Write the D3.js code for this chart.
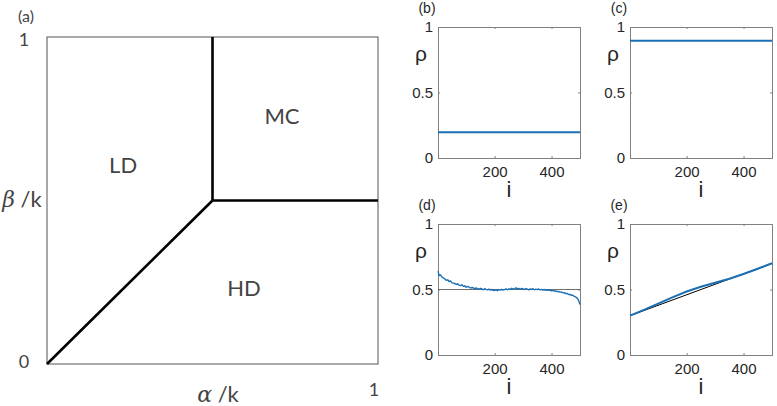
<!DOCTYPE html>
<html>
<head>
<meta charset="utf-8">
<script src="https://cdn.jsdelivr.net/npm/d3@7"></script>
<style>
  body { margin: 0; background: #fff; }
  svg { display: block; }
  .phase text { font-family: Lato, "Open Sans", sans-serif; fill: #444; }
  .panel text { font-family: "Liberation Sans", Arial, sans-serif; fill: #262626; }
</style>
</head>
<body>
<svg id="chart" width="777" height="406"></svg>
<script>
// phase diagram (a): boundaries in (alpha/k, beta/k)
var lineLD_HD = [[0, 0], [0.5, 0.5]];
var lineLD_MC = [[0.5, 0.5], [0.5, 1]];
var lineHD_MC = [[0.5, 0.5], [1, 0.5]];
var phaseNames = ["LD", "MC", "HD"];
var phasePos = [[0.23, 0.61], [0.71, 0.76], [0.595, 0.235]];

// density profiles
var xTicks = [200, 400];
var yTicks = [0, 0.5, 1];
var yTickLabels = ["0", "0.5", "1"];

var iB = [1, 500], rhoB = [0.197, 0.197];
var iC = [1, 500], rhoC = [0.895, 0.895];

var iD = [1].concat(d3.range(5, 501, 5));
var rhoD = [0.640, 0.606, 0.611, 0.594, 0.588, 0.581, 0.570, 0.574, 0.561, 0.566,
  0.551, 0.549, 0.547, 0.538, 0.544, 0.533, 0.530, 0.536, 0.524, 0.528,
  0.517, 0.524, 0.519, 0.511, 0.515, 0.513, 0.504, 0.512, 0.507, 0.502,
  0.509, 0.505, 0.498, 0.506, 0.501, 0.497, 0.503, 0.495, 0.500, 0.492,
  0.494, 0.497, 0.491, 0.499, 0.495, 0.502, 0.496, 0.499, 0.504, 0.498,
  0.505, 0.501, 0.509, 0.503, 0.507, 0.512, 0.505, 0.509, 0.502, 0.508,
  0.504, 0.500, 0.507, 0.503, 0.497, 0.505, 0.501, 0.506, 0.498, 0.503,
  0.499, 0.504, 0.497, 0.501, 0.496, 0.500, 0.494, 0.497, 0.493, 0.496,
  0.490, 0.493, 0.487, 0.489, 0.483, 0.486, 0.480, 0.481, 0.474, 0.476,
  0.468, 0.470, 0.462, 0.463, 0.455, 0.456, 0.447, 0.443, 0.434, 0.417,
  0.385];
var iDref = [1, 500], rhoDref = [0.5, 0.5];

var iE = [1, 50, 100, 150, 200, 250, 300, 350, 400, 450, 500];
var rhoE = [0.30, 0.345, 0.392, 0.44, 0.485, 0.521, 0.551, 0.582, 0.618, 0.658, 0.70];
var iEref = [1, 500], rhoEref = [0.3, 0.7];

var blue = "#1a6fb5";
var svg = d3.select("#chart");

// ---- panel (a)
var xA = d3.scaleLinear().domain([0, 1]).range([47, 378]);
var yA = d3.scaleLinear().domain([0, 1]).range([364, 37]);
var gA = svg.append("g").attr("class", "phase");

gA.append("rect")
  .attr("x", xA(0)).attr("y", yA(1))
  .attr("width", xA(1) - xA(0)).attr("height", yA(0) - yA(1))
  .attr("fill", "none").attr("stroke", "#555").attr("stroke-width", 1);

var lineA = d3.line().x(function(d) { return xA(d[0]); }).y(function(d) { return yA(d[1]); });
[lineLD_HD, lineLD_MC, lineHD_MC].forEach(function(l) {
  gA.append("path").attr("d", lineA(l))
    .attr("fill", "none").attr("stroke", "#000").attr("stroke-width", 2.6);
});

phaseNames.forEach(function(n, k) {
  gA.append("text").attr("x", xA(phasePos[k][0])).attr("y", yA(phasePos[k][1]))
    .attr("text-anchor", "middle").attr("dominant-baseline", "central")
    .attr("font-size", 22).text(n);
});

gA.append("text").attr("x", 26).attr("y", 22).attr("text-anchor", "middle").attr("font-size", 16).text("(a)");
gA.append("text").attr("x", 24).attr("y", 46).attr("text-anchor", "middle").attr("font-size", 18).text("1");
gA.append("text").attr("x", 24).attr("y", 368).attr("text-anchor", "middle").attr("font-size", 18).text("0");
gA.append("text").attr("x", 374).attr("y", 396).attr("text-anchor", "middle").attr("font-size", 18).text("1");

var ax = gA.append("text").attr("x", 218).attr("y", 402).attr("text-anchor", "middle").attr("font-size", 22);
ax.append("tspan").attr("font-style", "italic").attr("font-family", "'DejaVu Serif', serif").text("α");
ax.append("tspan").text(" /k");
var ay = gA.append("text").attr("x", 22).attr("y", 207).attr("text-anchor", "middle").attr("font-size", 22);
ay.append("tspan").attr("font-style", "italic").attr("font-family", "'DejaVu Serif', serif").text("β");
ay.append("tspan").text(" /k");

// ---- panels (b)-(e)
function drawPanel(o) {
  var x = d3.scaleLinear().domain([1, 500]).range([o.left, o.left + 142]);
  var y = d3.scaleLinear().domain([0, 1]).range([o.top + 131, o.top]);
  var g = svg.append("g").attr("class", "panel");

  var xAx = d3.axisBottom(x).tickValues(xTicks).tickSize(-2).tickPadding(8).tickFormat(d3.format("d"));
  var xAxTop = d3.axisTop(x).tickValues(xTicks).tickSize(-2).tickFormat("");
  var yAx = d3.axisLeft(y).tickValues(yTicks).tickSize(-2).tickPadding(5)
    .tickFormat(function(d, k) { return yTickLabels[k]; });
  var yAxR = d3.axisRight(y).tickValues(yTicks).tickSize(-2).tickFormat("");

  g.append("g").attr("transform", "translate(0," + (o.top + 131) + ")").call(xAx);
  g.append("g").attr("transform", "translate(0," + o.top + ")").call(xAxTop);
  g.append("g").attr("transform", "translate(" + o.left + ",0)").call(yAx);
  g.append("g").attr("transform", "translate(" + (o.left + 142) + ",0)").call(yAxR);
  g.selectAll(".domain").attr("stroke", "#808080");
  g.selectAll(".tick line").attr("stroke", "#808080");
  g.selectAll(".tick text").attr("font-size", 15).attr("fill", "#262626")
    .attr("font-family", "'Liberation Sans', Arial, sans-serif");

  var line = d3.line().x(function(d) { return x(d[0]); }).y(function(d) { return y(d[1]); });
  if (o.ref) {
    g.append("path").attr("d", line(d3.zip(o.ref[0], o.ref[1])))
      .attr("fill", "none").attr("stroke", o.refColor).attr("stroke-width", o.refWidth);
  }
  g.append("path").attr("d", line(d3.zip(o.i, o.rho)))
    .attr("fill", "none").attr("stroke", blue).attr("stroke-width", o.width)
    .attr("stroke-linejoin", "round");

  g.append("text").attr("x", o.left - 11).attr("y", o.top - 14).attr("text-anchor", "middle")
    .attr("font-size", 14).attr("fill", "#262626").text(o.label);
  g.append("text").attr("x", o.left - 17).attr("y", o.top + 34).attr("text-anchor", "middle")
    .attr("font-size", 21).attr("fill", "#262626").text("ρ");
  g.append("text").attr("x", o.left + 71).attr("y", o.top + 170).attr("text-anchor", "middle")
    .attr("font-size", 22).attr("fill", "#262626").text("i");
}

drawPanel({left: 438, top: 27, i: iB, rho: rhoB, label: "(b)", width: 2});
drawPanel({left: 630, top: 27, i: iC, rho: rhoC, label: "(c)", width: 2});
drawPanel({left: 438, top: 224, i: iD, rho: rhoD, label: "(d)", width: 1.4,
  ref: [iDref, rhoDref], refColor: "#6e6e6e", refWidth: 1.2});
drawPanel({left: 630, top: 224, i: iE, rho: rhoE, label: "(e)", width: 2,
  ref: [iEref, rhoEref], refColor: "#000", refWidth: 1});
</script>
</body>
</html>
